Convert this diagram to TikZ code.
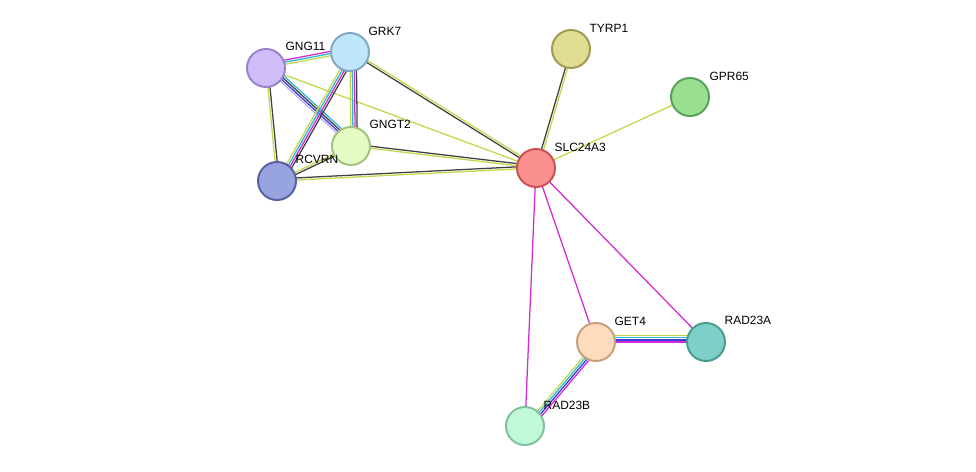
\documentclass[tikz,border=0pt]{standalone}
\usepackage{fontspec}
\setmainfont{Liberation Sans}
\usetikzlibrary{calc,backgrounds}
\definecolor{tm}{HTML}{C2D84A}
\definecolor{co}{HTML}{404040}
\definecolor{ex}{HTML}{D22BD2}
\definecolor{db}{HTML}{2BB8D8}
\definecolor{bl}{HTML}{3A3AE0}
\definecolor{lv}{HTML}{B8B0F0}
\definecolor{gngfill}{HTML}{D0BEFA}\definecolor{gngdraw}{HTML}{9A82C8}
\definecolor{grkfill}{HTML}{BFE6FA}\definecolor{grkdraw}{HTML}{7FA8C4}
\definecolor{tyrfill}{HTML}{E0DC92}\definecolor{tyrdraw}{HTML}{A09A50}
\definecolor{gprfill}{HTML}{98E090}\definecolor{gprdraw}{HTML}{5AA05A}
\definecolor{gngtfill}{HTML}{E4FCC4}\definecolor{gngtdraw}{HTML}{A4C080}
\definecolor{slcfill}{HTML}{FA9090}\definecolor{slcdraw}{HTML}{C85050}
\definecolor{rcvfill}{HTML}{98A4E0}\definecolor{rcvdraw}{HTML}{5860A0}
\definecolor{getfill}{HTML}{FCDCBC}\definecolor{getdraw}{HTML}{C8A078}
\definecolor{radafill}{HTML}{7CD0C8}\definecolor{radadraw}{HTML}{4A9A90}
\definecolor{radbfill}{HTML}{C0F8D8}\definecolor{radbdraw}{HTML}{80C0A0}
\newcommand\bundle[3]{%
  \foreach \c [count=\i] in {#3} {%
    \draw[\c, line width=0.9pt] ($(#1)!{(\i-1)*1.5pt}!90:(#2)$) -- ($(#2)!{(\i-1)*1.5pt}!-90:(#1)$);}}
\begin{document}
\begin{tikzpicture}[x=0.025cm, y=-0.025cm,
    prot/.style={circle, minimum size=0.95cm, line width=1.4pt, inner sep=0pt},
    lbl/.style={font=\fontsize{8.5}{10}\selectfont, inner sep=1pt}]
    \useasboundingbox (0,0) rectangle (976,472);
    \node[prot, fill=gngfill, draw=gngdraw] (gng11) at (266,68) {};
    \node[prot, fill=grkfill, draw=grkdraw] (grk7) at (350,52) {};
    \node[prot, fill=tyrfill, draw=tyrdraw] (tyrp1) at (571,49) {};
    \node[prot, fill=gprfill, draw=gprdraw] (gpr65) at (690,97) {};
    \node[prot, fill=gngtfill, draw=gngtdraw] (gngt2) at (351,146) {};
    \node[prot, fill=slcfill, draw=slcdraw] (slc) at (536,168) {};
    \node[prot, fill=rcvfill, draw=rcvdraw] (rcvrn) at (277,181) {};
    \node[prot, fill=getfill, draw=getdraw] (get4) at (596,342) {};
    \node[prot, fill=radafill, draw=radadraw] (rad23a) at (706,342) {};
    \node[prot, fill=radbfill, draw=radbdraw] (rad23b) at (525,426) {};

    \node[lbl, anchor=west] (lgng11) at (284,46) {GNG11};
    \node[lbl, anchor=west] (lgrk7) at (367,31) {GRK7};
    \node[lbl, anchor=west] (ltyrp1) at (588,28) {TYRP1};
    \node[lbl, anchor=west] (lgpr65) at (708,76) {GPR65};
    \node[lbl, anchor=west] (lgngt2) at (368,124) {GNGT2};
    \node[lbl, anchor=west] (lslc) at (553,147) {SLC24A3};
    \node[lbl, anchor=west] (lrcvrn) at (294,159) {RCVRN};
    \node[lbl, anchor=west] (lget4) at (613,321) {GET4};
    \node[lbl, anchor=west] (lrad23a) at (723,320) {RAD23A};
    \node[lbl, anchor=west] (lrad23b) at (542,405) {RAD23B};

    \begin{scope}[on background layer]
    \bundle{gng11}{grk7}{tm,db,ex}
    \bundle{gng11}{gngt2}{lv,bl,co,db}
    \bundle{gng11}{rcvrn}{tm,co}
    \bundle{gng11}{slc}{tm}
    \bundle{grk7}{gngt2}{tm,db,ex,co}
    \bundle{grk7}{rcvrn}{tm,db,ex,co}
    \bundle{grk7}{slc}{co,tm}
    \bundle{gngt2}{rcvrn}{tm,co}
    \bundle{gngt2}{slc}{tm,co}
    \bundle{rcvrn}{slc}{tm,co}
    \bundle{tyrp1}{slc}{co,tm}
    \bundle{gpr65}{slc}{tm}
    \bundle{slc}{get4}{ex}
    \bundle{slc}{rad23a}{ex}
    \bundle{slc}{rad23b}{ex}
    \bundle{get4}{rad23a}{ex,bl,db,tm}
    \bundle{get4}{rad23b}{tm,db,bl,ex}
    \end{scope}
\end{tikzpicture}
\end{document}
